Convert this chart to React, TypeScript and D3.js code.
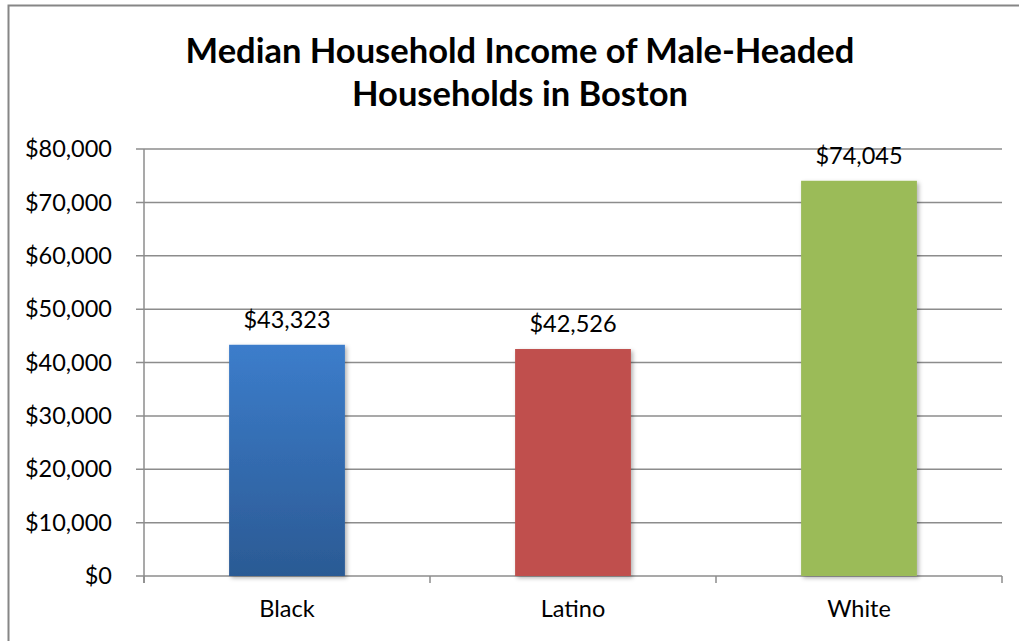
import React, { useEffect, useRef } from "react";
import * as d3 from "d3";

const categories = ["Black", "Latino", "White"];
const incomes = [43323, 42526, 74045];
const barColors = ["#3a7bc8", "#c0504d", "#9bbb59"];
const yTicks = [0, 10000, 20000, 30000, 40000, 50000, 60000, 70000, 80000];
const titleLines = ["Median Household Income of Male-Headed", "Households in Boston"];

const W = 1019;
const H = 641;
const FONT = "Lato, 'Open Sans', sans-serif";

const App = () => {
  const ref = useRef<SVGSVGElement>(null);

  useEffect(() => {
    const svg = d3.select(ref.current);
    svg.selectAll("*").remove();

    const left = 144, right = 1002, top = 149, bottom = 576;

    const x = d3.scaleBand().domain(categories).range([left, right]).paddingInner(0.595).paddingOuter(0.2975);
    const y = d3.scaleLinear().domain([0, 80000]).range([bottom, top]);
    const fmt = (v: number) => "$" + d3.format(",")(v);

    const defs = svg.append("defs");
    const grad = defs.append("linearGradient").attr("id", "blueGrad").attr("x1", 0).attr("y1", 0).attr("x2", 0).attr("y2", 1);
    grad.append("stop").attr("offset", "0%").attr("stop-color", "#3c7dcb");
    grad.append("stop").attr("offset", "100%").attr("stop-color", "#2b5a94");
    const shadow = defs.append("filter").attr("id", "shadow").attr("x", "-10%").attr("y", "-10%").attr("width", "130%").attr("height", "130%");
    shadow.append("feDropShadow").attr("dx", 2).attr("dy", 2).attr("stdDeviation", 2).attr("flood-color", "#000").attr("flood-opacity", 0.3);

    // outer border
    svg.append("rect")
      .attr("x", 8.5).attr("y", 5.5).attr("width", W + 10).attr("height", H + 10)
      .attr("fill", "white").attr("stroke", "#868686").attr("stroke-width", 2);

    // title
    titleLines.forEach((t, i) => {
      svg.append("text")
        .attr("x", 520).attr("y", 63 + i * 43)
        .attr("text-anchor", "middle")
        .attr("font-family", FONT).attr("font-weight", "bold").attr("font-size", 34.5)
        .attr("fill", "#000").text(t);
    });

    // gridlines + y ticks
    const g = svg.append("g");
    yTicks.forEach((v) => {
      g.append("line")
        .attr("x1", left - 8).attr("x2", right)
        .attr("y1", y(v)).attr("y2", y(v))
        .attr("stroke", "#8c8c8c").attr("stroke-width", 1.5);
      g.append("text")
        .attr("x", 112).attr("y", y(v)).attr("dy", "0.35em")
        .attr("text-anchor", "end")
        .attr("font-family", FONT).attr("font-size", 23.5).attr("fill", "#000")
        .text(fmt(v));
    });

    // y axis line
    g.append("line").attr("x1", left).attr("x2", left).attr("y1", top).attr("y2", bottom + 7)
      .attr("stroke", "#8c8c8c").attr("stroke-width", 1.5);

    // category ticks
    [0, 1, 2, 3].forEach((i) => {
      const xx = left + i * (right - left) / 3;
      g.append("line").attr("x1", xx).attr("x2", xx).attr("y1", bottom).attr("y2", bottom + 7)
        .attr("stroke", "#8c8c8c").attr("stroke-width", 1.5);
    });

    // bars
    svg.append("g").selectAll("rect").data(incomes).join("rect")
      .attr("x", (_, i) => x(categories[i])!)
      .attr("y", (d) => y(d))
      .attr("width", x.bandwidth())
      .attr("height", (d) => bottom - y(d))
      .attr("fill", (_, i) => (i === 0 ? "url(#blueGrad)" : barColors[i]))
      .attr("filter", "url(#shadow)");

    // value labels
    svg.append("g").selectAll("text").data(incomes).join("text")
      .attr("x", (_, i) => x(categories[i])! + x.bandwidth() / 2)
      .attr("y", (d) => y(d) - 17)
      .attr("text-anchor", "middle")
      .attr("font-family", FONT).attr("font-size", 23.5).attr("fill", "#000")
      .text((d) => fmt(d));

    // category labels
    svg.append("g").selectAll("text").data(categories).join("text")
      .attr("x", (c) => x(c)! + x.bandwidth() / 2)
      .attr("y", 617)
      .attr("text-anchor", "middle")
      .attr("font-family", FONT).attr("font-size", 23.5).attr("fill", "#000")
      .text((c) => c);
  }, []);

  return (
    <svg ref={ref} width={W} height={H} style={{ position: "absolute", left: 0, top: 0, display: "block" }} />
  );
};

export default App;
